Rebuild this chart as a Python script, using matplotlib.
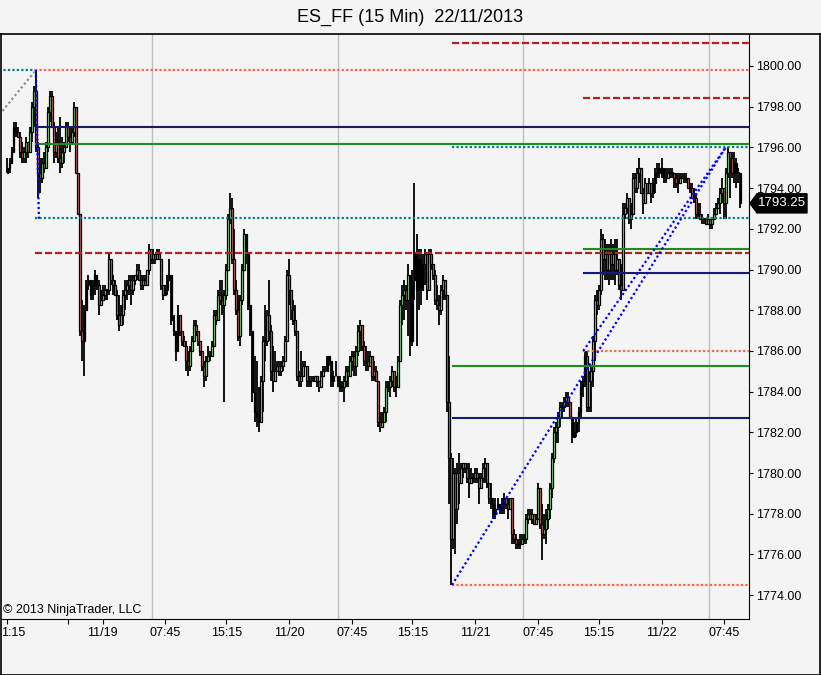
import matplotlib.pyplot as plt
from matplotlib.patches import Polygon
from matplotlib.lines import Line2D
import matplotlib.transforms as mtransforms

plt.rcParams['font.family'] = ['Liberation Sans', 'DejaVu Sans']

# 15 min bars, ES_FF (open = previous close)
first_open = 1794.75
closes = [
    1795.00, 1795.25, 1795.75, 1797.00, 1796.75, 1796.50, 1795.75, 1795.50, 1795.75, 1796.25,
    1795.75, 1796.75, 1798.00, 1798.75, 1796.00, 1794.75, 1794.50, 1795.25, 1795.00, 1796.00,
    1797.75, 1798.50, 1797.00, 1795.75, 1796.25, 1795.50, 1795.25, 1795.75, 1796.00, 1797.00,
    1796.50, 1796.25, 1796.75, 1798.00, 1794.75, 1792.75, 1787.00, 1786.50, 1788.00, 1789.25,
    1789.50, 1788.75, 1789.25, 1789.75, 1789.25, 1788.25, 1788.50, 1788.75, 1789.00, 1789.00,
    1790.50, 1789.50, 1789.25, 1788.75, 1787.75, 1787.25, 1787.75, 1788.75, 1789.00, 1789.25,
    1789.50, 1789.00, 1789.50, 1789.75, 1790.00, 1789.50, 1789.25, 1789.50, 1789.25, 1790.00,
    1791.00, 1790.50, 1790.75, 1790.50, 1790.75, 1790.50, 1789.25, 1788.75, 1789.00, 1789.50,
    1789.75, 1787.50, 1787.00, 1786.00, 1787.75, 1787.00, 1786.50, 1786.25, 1785.50, 1785.25,
    1786.00, 1786.50, 1787.25, 1787.00, 1786.50, 1786.00, 1785.25, 1784.75, 1785.50, 1785.75,
    1785.75, 1786.25, 1787.75, 1787.50, 1788.75, 1788.50, 1788.25, 1788.75, 1790.00, 1792.50,
    1793.00, 1790.50, 1789.00, 1788.00, 1786.75, 1788.50, 1790.00, 1791.75, 1790.75, 1788.25,
    1787.00, 1784.00, 1783.00, 1782.75, 1782.50, 1784.50, 1786.50, 1786.50, 1787.75, 1787.00,
    1785.00, 1784.50, 1785.00, 1785.25, 1785.00, 1785.25, 1785.50, 1786.50, 1789.75, 1789.00,
    1788.00, 1787.50, 1787.00, 1784.75, 1784.50, 1784.75, 1785.25, 1785.25, 1784.50, 1784.50,
    1784.50, 1784.50, 1784.75, 1784.50, 1784.25, 1784.75, 1785.00, 1785.00, 1785.75, 1785.50,
    1784.50, 1784.75, 1784.75, 1784.50, 1784.25, 1784.25, 1784.50, 1785.00, 1784.75, 1785.50,
    1785.75, 1785.25, 1786.00, 1787.00, 1787.25, 1786.25, 1785.50, 1785.50, 1785.25, 1785.75,
    1784.75, 1785.00, 1784.50, 1782.50, 1782.25, 1782.50, 1783.00, 1784.25, 1784.25, 1784.50,
    1785.00, 1784.25, 1784.25, 1785.50, 1788.25, 1788.75, 1789.00, 1788.50, 1789.75, 1786.50,
    1789.50, 1790.75, 1789.00, 1790.50, 1789.00, 1790.25, 1790.75, 1789.00, 1790.75, 1790.25,
    1789.75, 1788.50, 1788.25, 1788.00, 1789.00, 1789.50, 1788.75, 1783.50, 1780.75, 1776.75,
    1780.00, 1778.25, 1780.00, 1779.50, 1780.25, 1780.50, 1780.25, 1779.75, 1779.50, 1779.75,
    1779.75, 1780.00, 1779.75, 1779.25, 1779.75, 1780.25, 1780.50, 1779.50, 1778.75, 1778.50,
    1778.00, 1778.25, 1778.50, 1778.25, 1778.50, 1778.75, 1778.50, 1778.25, 1778.75, 1777.00,
    1776.75, 1776.50, 1776.50, 1776.50, 1776.75, 1776.75, 1777.75, 1778.00, 1777.75, 1778.00,
    1777.50, 1777.75, 1779.25, 1777.50, 1777.00, 1777.25, 1777.75, 1778.25, 1779.25, 1780.75,
    1782.00, 1782.25, 1782.75, 1783.25, 1783.25, 1783.50, 1783.75, 1783.50, 1782.75, 1781.75,
    1782.00, 1782.50, 1783.00, 1784.25, 1784.50, 1785.75, 1783.25, 1784.50, 1785.00, 1786.50,
    1788.50, 1788.25, 1789.00, 1791.50, 1790.50, 1790.75, 1790.00, 1790.75, 1790.25, 1790.75,
    1790.00, 1790.50, 1789.25, 1789.00, 1792.75, 1793.00, 1793.50, 1792.50, 1792.75, 1794.50,
    1794.00, 1794.75, 1795.00, 1793.75, 1793.25, 1794.25, 1793.75, 1794.25, 1793.75, 1794.25,
    1794.75, 1795.00, 1794.75, 1795.00, 1794.50, 1794.50, 1794.75, 1794.75, 1794.75, 1794.50,
    1794.25, 1794.25, 1794.50, 1794.50, 1794.50, 1794.50, 1794.00, 1794.00, 1793.50, 1793.50,
    1792.75, 1792.75, 1792.50, 1792.50, 1792.50, 1792.25, 1792.50, 1792.25, 1792.50, 1792.75,
    1793.00, 1793.25, 1793.75, 1794.00, 1793.25, 1794.75, 1795.75, 1795.50, 1794.75, 1795.25,
    1794.75, 1794.75, 1793.25,
]
highs = [
    1795.50, 1795.50, 1796.00, 1797.25, 1797.25, 1797.00, 1796.75, 1796.25, 1796.00, 1796.50,
    1796.25, 1797.00, 1798.25, 1799.00, 1799.75, 1796.25, 1795.50, 1795.50, 1795.75, 1796.25,
    1798.00, 1798.75, 1798.75, 1797.25, 1796.75, 1797.00, 1797.50, 1796.50, 1796.25, 1797.25,
    1797.25, 1797.00, 1797.00, 1798.25, 1798.00, 1794.75, 1792.75, 1788.50, 1788.25, 1789.50,
    1789.75, 1789.25, 1789.50, 1790.00, 1789.75, 1789.50, 1789.00, 1789.25, 1789.25, 1789.00,
    1790.75, 1790.50, 1789.75, 1789.50, 1789.00, 1788.75, 1788.25, 1789.00, 1789.50, 1789.50,
    1789.75, 1789.75, 1789.75, 1789.75, 1790.25, 1790.25, 1789.75, 1789.75, 1789.75, 1790.00,
    1791.25, 1791.00, 1791.00, 1790.75, 1791.00, 1791.00, 1790.50, 1789.25, 1789.25, 1789.75,
    1790.50, 1789.75, 1787.75, 1787.00, 1788.25, 1787.50, 1787.00, 1786.75, 1786.50, 1786.00,
    1786.25, 1786.75, 1787.50, 1787.50, 1787.00, 1786.50, 1786.00, 1785.50, 1785.75, 1786.25,
    1786.00, 1786.50, 1788.00, 1788.00, 1789.00, 1789.50, 1789.50, 1789.00, 1790.25, 1792.75,
    1793.75, 1793.50, 1792.00, 1789.50, 1788.75, 1788.75, 1790.25, 1792.00, 1791.75, 1790.75,
    1788.25, 1787.00, 1785.75, 1785.50, 1784.25, 1784.75, 1786.75, 1788.25, 1788.00, 1789.50,
    1787.25, 1786.25, 1786.00, 1785.50, 1785.50, 1785.50, 1785.75, 1786.75, 1790.00, 1790.50,
    1788.75, 1788.50, 1788.25, 1787.00, 1785.00, 1786.00, 1785.50, 1785.50, 1785.25, 1784.75,
    1784.75, 1784.75, 1784.75, 1784.75, 1784.50, 1785.00, 1785.25, 1785.25, 1785.75, 1785.75,
    1785.25, 1785.00, 1785.50, 1784.75, 1784.75, 1784.50, 1784.75, 1785.25, 1785.25, 1785.75,
    1786.00, 1786.00, 1786.25, 1787.25, 1787.50, 1787.00, 1786.50, 1786.25, 1786.00, 1786.00,
    1785.50, 1785.50, 1785.25, 1784.50, 1783.00, 1783.00, 1783.25, 1784.50, 1784.50, 1784.75,
    1785.25, 1785.00, 1784.75, 1785.75, 1788.50, 1789.25, 1789.50, 1789.25, 1790.25, 1789.50,
    1790.00, 1794.25, 1791.75, 1791.00, 1791.00, 1790.75, 1791.00, 1790.25, 1791.00, 1791.00,
    1790.25, 1790.00, 1789.25, 1788.75, 1789.25, 1789.75, 1789.25, 1788.75, 1785.75, 1781.00,
    1780.75, 1780.25, 1780.50, 1781.00, 1780.50, 1780.50, 1780.50, 1780.50, 1780.50, 1780.25,
    1780.00, 1780.25, 1780.25, 1780.00, 1780.00, 1780.50, 1780.75, 1780.50, 1779.50, 1779.50,
    1778.75, 1778.75, 1778.75, 1778.50, 1778.75, 1779.00, 1778.75, 1778.75, 1778.75, 1778.25,
    1777.25, 1777.00, 1776.75, 1777.00, 1777.00, 1777.00, 1778.00, 1778.25, 1778.25, 1778.25,
    1778.00, 1778.00, 1779.50, 1779.25, 1778.50, 1778.00, 1778.25, 1778.50, 1779.50, 1781.00,
    1782.25, 1782.50, 1783.00, 1783.50, 1783.50, 1783.75, 1784.00, 1784.00, 1783.50, 1782.75,
    1782.50, 1782.75, 1783.25, 1784.50, 1784.75, 1786.00, 1786.00, 1785.00, 1785.25, 1786.75,
    1788.75, 1789.00, 1789.25, 1792.00, 1791.75, 1791.50, 1791.25, 1791.25, 1791.50, 1791.25,
    1791.50, 1791.50, 1790.50, 1790.25, 1793.25, 1793.25, 1793.75, 1793.50, 1793.25, 1794.75,
    1794.75, 1795.00, 1795.50, 1795.00, 1794.00, 1794.50, 1794.25, 1794.50, 1794.25, 1794.50,
    1795.00, 1795.25, 1795.25, 1795.50, 1795.00, 1795.00, 1795.00, 1795.00, 1795.00, 1794.75,
    1794.75, 1794.75, 1794.75, 1794.75, 1794.75, 1794.75, 1794.50, 1794.25, 1794.25, 1794.00,
    1793.75, 1793.25, 1793.25, 1792.75, 1792.50, 1792.50, 1792.75, 1792.50, 1792.50, 1793.00,
    1793.25, 1793.50, 1794.00, 1794.50, 1794.00, 1795.00, 1796.00, 1795.75, 1795.75, 1795.75,
    1795.50, 1795.00, 1794.75,
]
lows = [
    1794.75, 1794.75, 1795.25, 1795.75, 1796.50, 1796.50, 1795.50, 1795.25, 1795.25, 1795.25,
    1795.50, 1795.75, 1796.25, 1797.00, 1795.75, 1793.50, 1793.75, 1794.25, 1794.75, 1795.25,
    1795.75, 1797.25, 1797.00, 1795.25, 1795.50, 1795.25, 1794.75, 1795.00, 1795.25, 1796.00,
    1796.25, 1795.75, 1796.25, 1796.50, 1794.75, 1792.75, 1786.75, 1785.50, 1784.75, 1788.00,
    1789.00, 1788.50, 1788.50, 1788.75, 1789.00, 1787.75, 1788.25, 1788.50, 1788.50, 1788.50,
    1788.75, 1789.25, 1788.75, 1788.75, 1787.50, 1787.00, 1787.25, 1787.25, 1788.00, 1788.50,
    1788.75, 1788.25, 1788.75, 1789.25, 1789.50, 1789.50, 1789.00, 1789.00, 1789.25, 1789.25,
    1789.75, 1790.25, 1790.25, 1790.25, 1790.50, 1790.50, 1789.00, 1788.50, 1789.00, 1788.75,
    1789.50, 1787.25, 1786.75, 1785.50, 1786.25, 1786.75, 1786.25, 1786.25, 1785.00, 1784.75,
    1785.00, 1786.00, 1786.75, 1786.75, 1786.25, 1785.75, 1785.00, 1784.25, 1784.50, 1785.50,
    1785.50, 1785.75, 1786.25, 1787.25, 1787.50, 1788.25, 1787.75, 1783.50, 1788.50, 1790.00,
    1792.25, 1790.25, 1788.75, 1787.75, 1786.50, 1786.25, 1788.25, 1790.00, 1790.25, 1788.00,
    1786.75, 1783.50, 1782.50, 1782.25, 1782.00, 1782.75, 1783.00, 1785.50, 1786.25, 1786.50,
    1784.50, 1784.00, 1784.75, 1785.00, 1784.75, 1784.75, 1785.00, 1785.50, 1786.50, 1788.25,
    1787.50, 1787.25, 1786.75, 1784.50, 1784.25, 1784.25, 1784.75, 1785.25, 1784.25, 1784.25,
    1784.25, 1784.50, 1784.50, 1784.25, 1784.00, 1784.25, 1784.75, 1785.00, 1785.00, 1785.25,
    1784.25, 1784.25, 1784.75, 1784.25, 1784.00, 1784.00, 1783.50, 1784.25, 1784.25, 1784.75,
    1785.00, 1784.75, 1784.75, 1785.75, 1786.00, 1786.00, 1785.25, 1785.00, 1785.00, 1785.25,
    1784.50, 1784.50, 1784.50, 1782.25, 1782.00, 1782.25, 1782.50, 1782.50, 1784.00, 1783.75,
    1784.25, 1784.00, 1783.75, 1784.25, 1785.50, 1787.25, 1787.50, 1788.00, 1786.75, 1785.75,
    1786.25, 1788.50, 1786.25, 1788.00, 1788.25, 1789.00, 1789.25, 1788.50, 1789.50, 1790.00,
    1789.50, 1788.25, 1788.00, 1787.25, 1787.75, 1788.50, 1788.50, 1783.00, 1778.50, 1774.50,
    1776.25, 1776.00, 1777.50, 1778.50, 1779.50, 1779.75, 1780.00, 1779.50, 1778.75, 1779.50,
    1779.50, 1779.50, 1779.50, 1778.50, 1779.25, 1779.50, 1779.50, 1779.25, 1778.50, 1778.25,
    1777.75, 1777.75, 1778.25, 1778.00, 1778.00, 1778.00, 1778.25, 1777.75, 1778.25, 1776.50,
    1776.50, 1776.25, 1776.25, 1776.25, 1776.50, 1776.50, 1776.50, 1777.50, 1777.75, 1777.50,
    1777.50, 1777.50, 1778.00, 1777.25, 1775.75, 1776.75, 1776.50, 1777.25, 1777.75, 1778.75,
    1780.50, 1781.50, 1781.50, 1782.25, 1782.75, 1783.00, 1783.25, 1783.25, 1782.75, 1781.50,
    1781.75, 1781.75, 1782.00, 1782.75, 1783.75, 1784.25, 1783.00, 1783.00, 1783.00, 1784.25,
    1785.50, 1787.75, 1788.00, 1788.75, 1789.75, 1789.50, 1789.50, 1789.25, 1789.50, 1789.50,
    1789.25, 1789.75, 1789.00, 1788.50, 1789.00, 1792.50, 1792.75, 1792.25, 1792.00, 1792.75,
    1793.75, 1793.75, 1794.25, 1793.75, 1792.75, 1793.50, 1793.75, 1793.75, 1793.25, 1793.50,
    1793.75, 1794.50, 1794.50, 1794.50, 1794.25, 1794.25, 1794.50, 1794.50, 1794.50, 1794.00,
    1794.00, 1793.75, 1794.25, 1794.50, 1794.25, 1794.25, 1794.00, 1793.75, 1793.50, 1793.25,
    1792.50, 1792.50, 1792.50, 1792.25, 1792.25, 1792.25, 1792.25, 1792.00, 1792.00, 1792.50,
    1792.75, 1793.00, 1792.75, 1793.25, 1792.50, 1792.50, 1794.50, 1793.50, 1794.50, 1794.25,
    1794.00, 1794.25, 1793.00,
]

# time axis (bar index) labels
tick_pos = [0, 30, 47, 78, 108, 139, 170, 200, 231, 262, 292, 323, 354]
tick_labels = ['', '', '11/19', '07:45', '15:15', '11/20', '07:45', '15:15',
               '11/21', '07:45', '15:15', '11/22', '07:45']
first_label = '1:15'
session_breaks = [71.4, 163.2, 254.6, 346.4]
price_ticks = [1774, 1776, 1778, 1780, 1782, 1784, 1786, 1788, 1790, 1792, 1794, 1796, 1798, 1800]

# drawn horizontal levels: (price, start bar, colour, style)
levels = [
    (1801.12, 219.5, '#b22222', 'dash'),
    (1799.80, 13.6, '#ff6347', 'dot'),
    (1799.80, -4.0, '#008080', 'dot_short'),
    (1798.43, 284.3, '#b22222', 'dash'),
    (1797.00, 13.6, '#191970', 'solid'),
    (1796.17, 13.6, '#228b22', 'solid'),
    (1796.02, 219.5, '#008080', 'dot'),
    (1792.55, 13.6, '#008080', 'dot'),
    (1791.00, 284.3, '#228b22', 'solid'),
    (1790.83, 13.6, '#b22222', 'dash'),
    (1789.83, 284.3, '#191970', 'solid'),
    (1786.00, 284.3, '#ff6347', 'dot'),
    (1785.27, 219.5, '#228b22', 'solid'),
    (1782.72, 219.5, '#191970', 'solid'),
    (1774.50, 219.5, '#ff6347', 'dot'),
]
# drawn trend lines: (bar0, price0, bar1, price1, colour)
trend_lines = [
    (219.5, 1774.50, 354.7, 1796.00, '#0000ff'),
    (284.3, 1786.00, 354.7, 1796.00, '#0000ff'),
    (14.0, 1799.80, 15.5, 1792.50, '#0000ff'),
    (-4.0, 1797.60, 13.2, 1799.70, '#8c8c8c'),
]
last_price = 1793.25

W, H = 821, 675
bg = '#f4f4f4'
fig = plt.figure(figsize=(W / 100, H / 100), dpi=100, facecolor=bg)
ax = fig.add_axes([1 / W, 1 - 619 / H, 748 / W, 585 / H])
ax.set_facecolor(bg)
x0, x1 = -3.2, 366.2
ax.set_xlim(x0, x1)
ax.set_ylim(1772.83, 1801.57)

for xb in session_breaks:
    ax.axvline(xb, color='#c0c0c0', lw=1.0, zorder=1)

# candles
opens = [first_open] + closes[:-1]
xs = list(range(len(closes)))
lo_w = [min(l, o, c) for l, o, c in zip(lows, opens, closes)]
hi_w = [max(h, o, c) for h, o, c in zip(highs, opens, closes)]
ax.vlines(xs, lo_w, hi_w, color='black', lw=1.3, zorder=2)
bottoms = [min(o, c) for o, c in zip(opens, closes)]
heights = [max(abs(c - o), 0.02) for o, c in zip(opens, closes)]
cols = ['#90ee90' if c >= o else '#cd6b6b' for o, c in zip(opens, closes)]
ax.bar(xs, heights, bottom=bottoms, width=0.9, color=cols, edgecolor='black',
       linewidth=0.9, zorder=2.5)

styles = {'solid': dict(ls='-', lw=1.5),
          'dash': dict(ls=(0, (3.2, 1.3)), lw=1.6),
          'dot': dict(ls=(0, (1, 1)), lw=1.6),
          'dot_short': dict(ls=(0, (1, 1)), lw=1.6)}
for price, start, col, st in levels:
    end = 13.6 if st == 'dot_short' else x1
    ax.plot([start, end], [price, price], color=col, solid_capstyle='butt',
            dash_capstyle='butt', zorder=3, **styles[st])

for b0, p0, b1, p1, col in trend_lines:
    ax.plot([b0, b1], [p0, p1], color=col, ls=(0, (1, 1.2)), lw=1.6, zorder=3.5)

# axes look
for s in ['top', 'left']:
    ax.spines[s].set_visible(False)
for s in ['right', 'bottom']:
    ax.spines[s].set_linewidth(0.8)
    ax.spines[s].set_color('black')
ax.yaxis.tick_right()
ax.set_yticks(price_ticks)
ax.set_yticklabels(['%.2f' % p for p in price_ticks])
ax.tick_params(axis='y', length=3, width=0.8, pad=2, labelsize=9, colors='black')
ax.set_xticks(tick_pos)
ax.set_xticklabels(tick_labels)
ax.tick_params(axis='x', length=3.5, width=0.8, pad=2, labelsize=9, colors='black')

def fy(py):
    return 1 - py / H

# first time label sits against the left edge
fig.text(1 / W, fy(626.5), first_label, ha='left', va='top', fontsize=9)

# last price marker
tr = mtransforms.blended_transform_factory(ax.transAxes, ax.transData)
def fx(px):
    return (px - 1) / 748
hh = 0.47
marker = Polygon([(fx(750), last_price), (fx(757), last_price + hh), (fx(807), last_price + hh),
                  (fx(807), last_price - hh), (fx(757), last_price - hh)],
                 closed=True, facecolor='black', edgecolor='black', transform=tr, clip_on=False)
ax.add_patch(marker)
ax.text(fx(782), last_price, '%.2f' % last_price, color='white', fontsize=9.5,
        ha='center', va='center', transform=tr, clip_on=False)

# outer frame
frame = [((0, W), (34, 34)), ((0.5, 0.5), (34, H)), ((820, 820), (34, H)), ((0, W), (674.5, 674.5))]
for (xa, xb), (ya, yb) in frame:
    fig.add_artist(Line2D([xa / W, xb / W], [fy(ya), fy(yb)], color='black', lw=1.2,
                          transform=fig.transFigure))

fig.text(410 / W, fy(17), 'ES_FF (15 Min)  22/11/2013', ha='center', va='center', fontsize=13)
fig.text(3 / W, fy(610), '\u00a9 2013 NinjaTrader, LLC', ha='left', va='center', fontsize=9)

fig.savefig('out.png', dpi=100, facecolor=bg)
